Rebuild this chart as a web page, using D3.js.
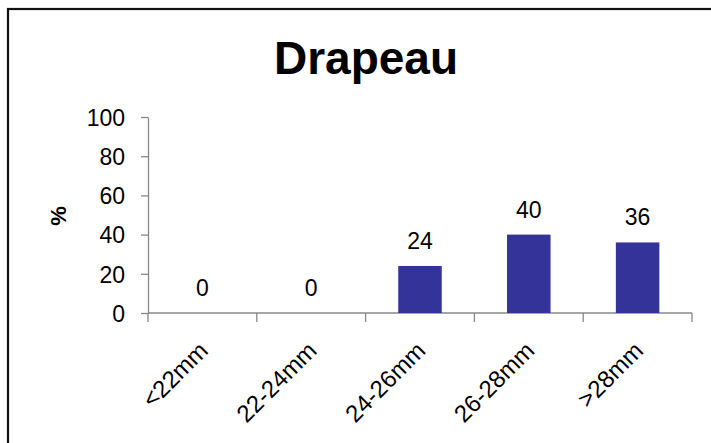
<!DOCTYPE html>
<html><head><meta charset="utf-8">
<script src="https://cdn.jsdelivr.net/npm/d3@7"></script>
<style>
html,body{margin:0;padding:0;background:#fff;}
svg{display:block;}
text{font-family:"Liberation Sans",Arial,sans-serif;fill:#000;}
</style></head>
<body>
<svg id="chart" width="711" height="443"></svg>
<script>
const categories = ["<22mm","22-24mm","24-26mm","26-28mm",">28mm"];
const values = [0,0,24,40,36];
const yTicks = [0,20,40,60,80,100];
const title = "Drapeau";
const yLabel = "%";

const svg = d3.select("#chart");
// outer frame
svg.append("rect").attr("x",8).attr("y",9).attr("width",720).attr("height",460)
  .attr("fill","none").attr("stroke","#111").attr("stroke-width",2.2);

const x = d3.scaleBand().domain(categories).range([148,692]).paddingInner(0.6).paddingOuter(0.3);
const xb = d3.scaleBand().domain(categories).range([148,692]);
const y = d3.scaleLinear().domain([0,100]).range([313,117]);

svg.append("text").attr("x",366).attr("y",74).attr("text-anchor","middle")
  .attr("font-size",46).attr("font-weight","bold").text(title);

// y axis
const ya = svg.append("g").attr("transform","translate(148,0)")
  .call(d3.axisLeft(y).tickValues(yTicks).tickSize(7).tickPadding(16).tickSizeOuter(0));
ya.select(".domain").attr("stroke","#888").attr("stroke-width",1.3);
ya.selectAll(".tick line").attr("stroke","#888").attr("stroke-width",1.3);
ya.selectAll(".tick text").attr("font-size",23).attr("font-family","Liberation Sans, Arial, sans-serif").attr("fill","#000").attr("dy","0.36em");

// x axis: ticks at band boundaries
const xa = svg.append("g").attr("transform","translate(0,313)");
xa.append("line").attr("x1",148).attr("x2",692).attr("stroke","#888").attr("stroke-width",1.3);
const bounds = categories.map(c=>xb(c)).concat([xb.range()[1]]);
xa.selectAll("line.t").data(bounds).join("line").attr("class","t")
  .attr("x1",d=>d).attr("x2",d=>d).attr("y1",0).attr("y2",9)
  .attr("stroke","#888").attr("stroke-width",1.3);
xa.selectAll("text").data(categories).join("text")
  .attr("transform",d=>`translate(${xb(d)+xb.bandwidth()/2+7},${39}) rotate(-45)`)
  .attr("text-anchor","end").attr("font-size",24).text(d=>d);

// y label
svg.append("text").attr("transform","translate(66,216) rotate(-90)")
  .attr("text-anchor","middle").attr("font-size",22).attr("font-weight","bold").text(yLabel);

// bars
svg.selectAll("rect.bar").data(values).join("rect").attr("class","bar")
  .attr("x",(d,i)=>x(categories[i])).attr("width",x.bandwidth())
  .attr("y",d=>y(d)).attr("height",d=>y(0)-y(d)).attr("fill","#333399");

svg.selectAll("text.lbl").data(values).join("text").attr("class","lbl")
  .attr("x",(d,i)=>xb(categories[i])+xb.bandwidth()/2).attr("y",d=>y(d)-17)
  .attr("text-anchor","middle").attr("font-size",23).text(d=>d);
</script>
</body></html>
